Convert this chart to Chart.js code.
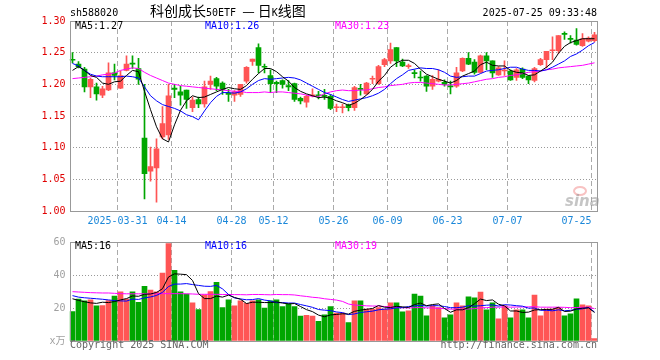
<!DOCTYPE html>
<html>
<head>
<meta charset="utf-8">
<script src="https://cdn.jsdelivr.net/npm/chart.js@4.4.1/dist/chart.umd.min.js"></script>
<style>
  body { margin: 0; background: #fff; width: 660px; height: 360px; position: relative; overflow: hidden; }
  canvas { position: absolute; left: 0; }
  .t { position: absolute; font-family: "DejaVu Sans Mono", monospace; font-size: 10px; line-height: 12px; white-space: pre; }
  .cjk { font-family: "Noto Sans CJK SC", sans-serif; font-size: 14px; }
</style>
</head>
<body>
<canvas id="kline" width="660" height="232" style="top:0"></canvas>
<canvas id="vol" width="660" height="128" style="top:232px"></canvas>

<div class="t" style="left:70px;top:7px;color:#000">sh588020</div>
<div class="t" style="left:150px;top:2px;color:#000;line-height:17px"><span class="cjk">科创成长</span>50ETF <span class="cjk">— 日</span>K<span class="cjk">线图</span></div>
<div class="t" style="right:63px;top:7px;color:#000">2025-07-25 09:33:48</div>

<div class="t" style="left:75px;top:20px;color:#000">MA5:1.27</div>
<div class="t" style="left:205px;top:20px;color:#0000ff">MA10:1.26</div>
<div class="t" style="left:335px;top:20px;color:#ff00ff">MA30:1.23</div>

<div class="t" style="left:75px;top:240px;color:#000">MA5:16</div>
<div class="t" style="left:205px;top:240px;color:#0000ff">MA10:16</div>
<div class="t" style="left:335px;top:240px;color:#ff00ff">MA30:19</div>

<div class="t" style="left:70px;top:339px;color:#666">Copyright 2025 SINA.COM</div>
<div class="t" style="right:63px;top:339px;color:#666">http://finance.sina.com.cn</div>

<script>
// trading days shown on the chart
const dates = [
  '2025-03-19','2025-03-20','2025-03-21','2025-03-24','2025-03-25','2025-03-26','2025-03-27','2025-03-28',
  '2025-03-31','2025-04-01','2025-04-02','2025-04-03','2025-04-07','2025-04-08','2025-04-09','2025-04-10','2025-04-11',
  '2025-04-14','2025-04-15','2025-04-16','2025-04-17','2025-04-18','2025-04-21','2025-04-22','2025-04-23','2025-04-24','2025-04-25',
  '2025-04-28','2025-04-29','2025-04-30','2025-05-06','2025-05-07','2025-05-08','2025-05-09',
  '2025-05-12','2025-05-13','2025-05-14','2025-05-15','2025-05-16','2025-05-19','2025-05-20','2025-05-21','2025-05-22','2025-05-23',
  '2025-05-26','2025-05-27','2025-05-28','2025-05-29','2025-05-30','2025-06-03','2025-06-04','2025-06-05','2025-06-06',
  '2025-06-09','2025-06-10','2025-06-11','2025-06-12','2025-06-13','2025-06-16','2025-06-17','2025-06-18','2025-06-19','2025-06-20',
  '2025-06-23','2025-06-24','2025-06-25','2025-06-26','2025-06-27','2025-06-30','2025-07-01','2025-07-02','2025-07-03','2025-07-04',
  '2025-07-07','2025-07-08','2025-07-09','2025-07-10','2025-07-11','2025-07-14','2025-07-15','2025-07-16','2025-07-17','2025-07-18',
  '2025-07-21','2025-07-22','2025-07-23','2025-07-24','2025-07-25'
];

const opens = [
  1.239,1.232,1.224,1.196,1.196,1.183,1.191,1.218,
  1.194,1.222,1.233,1.225,1.115,1.063,1.068,1.117,1.120,
  1.194,1.188,1.191,1.163,1.176,1.169,1.200,1.209,1.202,1.186,
  1.183,1.184,1.205,1.236,1.258,1.228,1.214,
  1.203,1.206,1.198,1.201,1.178,1.172,1.182,1.183,1.182,1.181,
  1.163,1.163,1.167,1.163,1.193,1.185,1.208,1.201,1.231,
  1.237,1.258,1.235,1.228,1.218,1.211,1.213,1.197,1.205,1.203,
  1.197,1.197,1.221,1.241,1.235,1.219,1.245,1.237,1.215,1.221,
  1.221,1.211,1.224,1.213,1.206,1.231,1.239,1.253,1.253,1.280,1.272,1.270,1.261,1.268,1.269
];
const highs = [
  1.250,1.236,1.227,1.210,1.202,1.197,1.234,1.232,
  1.221,1.245,1.245,1.241,1.200,1.101,1.114,1.165,1.200,
  1.200,1.197,1.191,1.180,1.180,1.205,1.213,1.211,1.204,1.192,
  1.190,1.200,1.228,1.240,1.264,1.232,1.223,
  1.205,1.207,1.206,1.202,1.180,1.183,1.193,1.189,1.192,1.184,
  1.169,1.169,1.169,1.197,1.200,1.203,1.213,1.230,1.241,
  1.265,1.258,1.240,1.232,1.223,1.221,1.214,1.214,1.223,1.207,
  1.205,1.227,1.242,1.250,1.239,1.246,1.250,1.237,1.228,1.237,
  1.223,1.225,1.226,1.214,1.227,1.241,1.252,1.275,1.277,1.283,1.277,1.288,1.280,1.275,1.282
];
const lows = [
  1.234,1.226,1.188,1.179,1.175,1.179,1.190,1.207,
  1.193,1.221,1.225,1.200,1.019,1.047,1.014,1.114,1.113,
  1.179,1.167,1.162,1.157,1.163,1.164,1.192,1.190,1.184,1.173,
  1.173,1.181,1.202,1.230,1.218,1.218,1.187,
  1.187,1.194,1.190,1.173,1.169,1.164,1.180,1.177,1.176,1.160,
  1.157,1.155,1.158,1.159,1.183,1.184,1.201,1.200,1.228,
  1.233,1.228,1.228,1.225,1.210,1.205,1.189,1.192,1.204,1.197,
  1.185,1.195,1.220,1.231,1.216,1.218,1.223,1.211,1.214,1.214,
  1.206,1.206,1.209,1.201,1.204,1.230,1.226,1.239,1.249,1.271,1.265,1.262,1.260,1.267,1.267
];
const closes = [
  1.238,1.228,1.196,1.208,1.185,1.193,1.218,1.214,
  1.214,1.232,1.232,1.208,1.059,1.070,1.098,1.138,1.182,
  1.192,1.183,1.176,1.175,1.169,1.196,1.205,1.197,1.192,1.184,
  1.188,1.200,1.227,1.240,1.230,1.227,1.201,
  1.201,1.200,1.196,1.176,1.174,1.181,1.183,1.182,1.181,1.162,
  1.164,1.164,1.163,1.195,1.192,1.202,1.209,1.228,1.239,
  1.255,1.237,1.229,1.228,1.217,1.210,1.197,1.208,1.208,1.200,
  1.196,1.218,1.241,1.232,1.219,1.245,1.237,1.218,1.226,1.221,
  1.207,1.223,1.211,1.207,1.225,1.239,1.252,1.254,1.277,1.279,1.271,1.263,1.272,1.273,1.278
];

const ma5 = [
  1.222,1.228,1.222,1.214,1.211,1.202,1.200,1.204,
  1.205,1.214,1.222,1.220,1.189,1.160,1.133,1.114,1.109,
  1.136,1.159,1.174,1.182,1.179,1.180,1.184,1.188,1.192,1.195,
  1.193,1.192,1.198,1.208,1.217,1.225,1.225,
  1.220,1.212,1.205,1.195,1.189,1.185,1.182,1.179,1.180,1.178,
  1.174,1.171,1.167,1.170,1.176,1.183,1.192,1.205,1.214,
  1.227,1.234,1.238,1.238,1.233,1.224,1.216,1.212,1.208,1.205,
  1.202,1.206,1.213,1.217,1.221,1.231,1.235,1.230,1.229,1.229,
  1.222,1.219,1.218,1.214,1.215,1.221,1.227,1.235,1.249,1.260,1.266,1.269,1.272,1.272,1.272
];
const ma10 = [
  1.233,1.229,1.222,1.216,1.213,1.212,1.212,1.212,
  1.212,1.213,1.212,1.210,1.196,1.182,1.174,1.168,1.165,
  1.162,1.158,1.152,1.149,1.144,1.158,1.171,1.181,1.187,1.187,
  1.186,1.188,1.193,1.200,1.206,1.209,1.208,
  1.209,1.210,1.211,1.210,1.207,1.202,1.197,1.192,1.187,1.184,
  1.180,1.176,1.173,1.175,1.177,1.179,1.182,1.186,1.192,
  1.201,1.209,1.215,1.222,1.224,1.226,1.225,1.225,1.223,1.219,
  1.213,1.211,1.212,1.213,1.213,1.217,1.221,1.222,1.223,1.225,
  1.227,1.227,1.224,1.222,1.222,1.221,1.223,1.227,1.232,1.237,1.244,1.248,1.254,1.261,1.266
];
const ma30 = [
  1.209,1.210,1.211,1.212,1.213,1.215,1.216,1.218,
  1.222,1.224,1.226,1.225,1.219,1.214,1.210,1.206,1.202,
  1.200,1.198,1.197,1.196,1.195,1.194,1.193,1.192,1.191,1.190,
  1.189,1.189,1.187,1.187,1.187,1.188,1.187,
  1.188,1.188,1.187,1.186,1.185,1.183,1.181,1.181,1.185,1.188,
  1.190,1.191,1.190,1.190,1.191,1.191,1.193,1.195,1.196,
  1.198,1.199,1.200,1.202,1.203,1.203,1.202,1.201,1.200,1.199,
  1.199,1.200,1.201,1.202,1.204,1.206,1.208,1.209,1.211,1.212,
  1.214,1.215,1.217,1.219,1.220,1.221,1.223,1.224,1.226,1.227,1.228,1.229,1.230,1.232,1.234
];

// volume, in 10k lots (x万)
const volumes = [
  17.9,25.4,24.4,24.9,21.3,21.5,24.5,27.2,
  29.8,25.4,29.8,23.5,33.2,30.8,29.8,41.1,59.0,
  42.8,29.8,28.5,23.2,19.0,28.0,30.0,35.6,20.3,24.9,
  21.3,24.3,22.9,24.3,24.9,19.9,24.3,
  24.9,20.9,22.5,20.9,15.1,15.5,15.1,11.9,15.9,20.8,
  16.9,16.9,11.2,24.3,24.3,19.3,19.3,20.3,19.3,
  23.1,23.1,17.7,18.3,28.5,27.3,15.3,21.3,20.3,14.1,
  15.9,23.1,21.3,26.7,26.1,29.7,18.9,23.1,13.5,21.3,
  14.1,18.9,18.9,14.1,27.9,15.3,19.3,19.3,20.3,15.3,16.5,25.5,21.9,21.3,1.4
];
const volMa5 = [
  25.6,24.6,23.8,23.1,22.8,23.5,23.3,23.9,
  24.9,25.7,27.3,27.1,28.3,28.5,29.4,31.7,38.8,
  40.7,40.5,40.2,36.7,28.7,25.7,25.7,27.2,26.6,27.8,
  26.4,25.3,22.7,23.5,23.5,23.3,23.3,
  23.7,23.0,22.5,22.7,20.9,19.0,17.8,15.7,14.7,15.8,
  16.1,16.5,16.3,18.0,18.7,19.2,19.7,21.5,20.5,
  20.3,21.0,20.7,20.3,22.1,23.0,21.4,22.1,22.5,19.7,
  17.4,18.9,18.9,20.2,22.6,25.4,24.5,24.9,22.3,21.3,
  18.2,18.2,17.3,17.5,18.8,19.0,19.1,19.2,20.4,17.9,18.1,19.4,19.9,20.1,17.3
];
const volMa10 = [
  27.5,26.6,26.2,25.9,25.6,25.3,24.9,24.5,
  24.3,24.2,25.4,25.2,26.1,26.7,27.6,29.5,33.0,
  34.5,34.5,34.8,34.2,33.7,33.2,33.1,33.7,31.6,28.2,
  26.1,25.5,25.0,25.1,25.7,24.8,24.3,
  23.2,23.3,23.0,23.0,22.1,21.3,20.4,19.1,18.7,18.4,
  17.6,17.2,16.0,16.4,17.3,17.7,18.1,18.9,19.3,
  19.5,20.1,20.2,20.9,21.3,21.6,21.2,21.4,21.4,20.9,
  20.2,20.2,20.5,21.4,21.1,21.4,21.7,21.9,21.2,22.0,
  21.8,21.4,21.1,19.9,20.0,18.6,18.6,18.3,18.9,18.3,18.6,19.2,19.5,20.3,17.6
];
const volMa30 = [
  29.9,29.7,29.5,29.3,29.2,29.1,29.1,28.9,
  28.7,28.6,28.6,28.6,28.6,28.6,28.6,28.7,28.7,
  28.7,28.7,28.6,28.5,28.3,28.3,28.3,28.3,28.2,28.2,
  28.1,28.1,28.0,28.2,28.2,28.1,28.0,
  28.2,28.1,28.1,27.9,27.4,27.0,26.5,26.2,25.6,25.2,
  24.8,24.0,22.4,21.8,21.6,21.3,21.2,21.2,20.9,
  20.7,20.3,20.2,20.0,20.2,20.3,20.1,20.0,19.8,19.6,
  19.3,19.3,19.3,19.4,19.6,20.1,20.2,20.5,20.5,20.7,
  20.5,20.6,20.6,20.7,20.8,20.5,20.5,20.5,20.5,20.4,20.2,20.3,20.4,20.5,19.6
];

// dates that get a label and a dashed grid line
const tickDates = ['2025-03-31','2025-04-14','2025-04-28','2025-05-12','2025-05-26','2025-06-09','2025-06-23','2025-07-07','2025-07-25'];
const tickTexts = ['2025-03-31','04-14','04-28','05-12','05-26','06-09','06-23','07-07','07-25'];

const UP = '#ff5555';
const DOWN = '#00a600';
const candleColors = closes.map((c, i) => c >= opens[i] ? UP : DOWN);
const tickIndex = tickDates.map(d => dates.indexOf(d));

Chart.defaults.font.family = '"DejaVu Sans Mono", "Noto Sans CJK SC", monospace';
Chart.defaults.font.size = 10;

// plot frame drawn on top of everything
const framePlugin = {
  id: 'frame',
  afterDraw(chart) {
    const { ctx, chartArea } = chart;
    ctx.save();
    ctx.strokeStyle = '#999';
    ctx.lineWidth = 1;
    ctx.strokeRect(70.5, Math.round(chartArea.top) + 0.5, 527, Math.round(chartArea.bottom - chartArea.top));
    ctx.restore();
  }
};

// faint sina logo in the lower right corner of the price panel
const logoPlugin = {
  id: 'logo',
  beforeDatasetsDraw(chart) {
    const ctx = chart.ctx;
    ctx.save();
    ctx.strokeStyle = 'rgba(240,120,120,0.45)';
    ctx.lineWidth = 2;
    ctx.beginPath();
    ctx.ellipse(580, 191, 6, 4, 0, 0, Math.PI * 2);
    ctx.stroke();
    ctx.font = 'italic bold 15px "DejaVu Sans"';
    ctx.fillStyle = 'rgba(150,150,150,0.55)';
    ctx.fillText('sina', 565, 206);
    ctx.restore();
  }
};

function xAxis(showLabels, height) {
  return {
    type: 'category',
    offset: true,
    grid: {
      offset: true,
      drawTicks: false,
      lineWidth: 1,
      color: c => tickIndex.includes(c.index) ? '#aaa' : 'rgba(0,0,0,0)'
    },
    border: { display: false, dash: [5, 3] },
    ticks: {
      display: showLabels,
      autoSkip: false,
      maxRotation: 0,
      minRotation: 0,
      padding: 4,
      labelOffset: -3,
      color: '#1a87d9',
      callback: (v, i) => {
        const j = tickDates.indexOf(dates[i]);
        if (j < 0) return '';
        // the last date sits against the right edge, so it is pushed left
        return j === tickDates.length - 1 ? tickTexts[j] + '     ' : tickTexts[j];
      }
    },
    afterFit: s => { s.height = height; }
  };
}

new Chart(document.getElementById('kline'), {
  type: 'bar',
  data: {
    labels: dates,
    datasets: [
      { type: 'line', data: ma5, borderColor: '#000', borderWidth: 1, pointRadius: 0, order: 0 },
      { type: 'line', data: ma10, borderColor: '#0000ff', borderWidth: 1, pointRadius: 0, order: 0 },
      { type: 'line', data: ma30, borderColor: '#ff00ff', borderWidth: 1, pointRadius: 0, order: 0 },
      {
        data: opens.map((o, i) => [o, closes[i]]),
        backgroundColor: candleColors,
        barThickness: 5, grouped: false, minBarLength: 1, order: 1
      },
      {
        data: lows.map((l, i) => [l, highs[i]]),
        backgroundColor: candleColors,
        barThickness: 1, grouped: false, order: 2
      }
    ]
  },
  options: {
    responsive: false,
    animation: false,
    devicePixelRatio: 1,
    layout: { padding: { left: 0, right: 62.5, top: 21, bottom: 0 } },
    plugins: { legend: { display: false }, tooltip: { enabled: false } },
    scales: {
      x: xAxis(true, 21),
      y: {
        min: 1.0,
        max: 1.3,
        grid: {
          drawTicks: false,
          color: c => (c.index === 0 || c.index === c.scale.ticks.length - 1) ? 'rgba(0,0,0,0)' : '#999'
        },
        border: { display: false, dash: [1, 2] },
        ticks: {
          stepSize: 0.05,
          padding: 4,
          color: '#e00000',
          callback: v => v.toFixed(2)
        },
        afterFit: s => { s.width = 69.5; }
      }
    }
  },
  plugins: [logoPlugin, framePlugin]
});

new Chart(document.getElementById('vol'), {
  type: 'bar',
  data: {
    labels: dates,
    datasets: [
      { type: 'line', data: volMa5, borderColor: '#000', borderWidth: 1, pointRadius: 0, order: 0 },
      { type: 'line', data: volMa10, borderColor: '#0000ff', borderWidth: 1, pointRadius: 0, order: 0 },
      { type: 'line', data: volMa30, borderColor: '#ff00ff', borderWidth: 1, pointRadius: 0, order: 0 },
      { data: volumes, backgroundColor: candleColors, barThickness: 5, grouped: false, order: 1 }
    ]
  },
  options: {
    responsive: false,
    animation: false,
    devicePixelRatio: 1,
    layout: { padding: { left: 0, right: 62.5, top: 8, bottom: 0 } },
    plugins: { legend: { display: false }, tooltip: { enabled: false } },
    scales: {
      x: xAxis(false, 19),
      y: {
        min: 0,
        max: 60,
        grid: {
          drawTicks: false,
          color: c => (c.index === 0 || c.index === c.scale.ticks.length - 1) ? 'rgba(0,0,0,0)' : '#999'
        },
        border: { display: false, dash: [1, 2] },
        ticks: {
          stepSize: 20,
          padding: 4,
          color: '#a0a0a0',
          callback: v => v === 0 ? 'x万' : String(v)
        },
        afterFit: s => { s.width = 69.5; }
      }
    }
  },
  plugins: [framePlugin]
});
</script>
</body>
</html>
